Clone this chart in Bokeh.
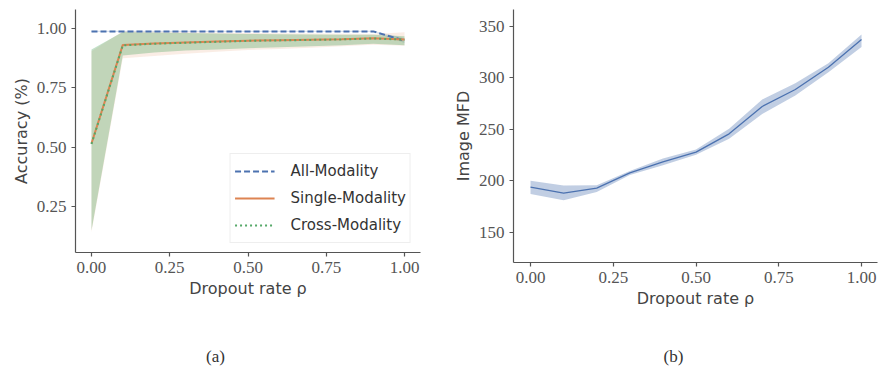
from bokeh.plotting import figure
from bokeh.layouts import row, column
from bokeh.models import FixedTicker, Legend, LegendItem, Range1d
from bokeh.core.properties import value
from bokeh.embed import file_html
from bokeh.resources import INLINE

# ---------------- data ----------------
rates = [0.0, 0.1, 0.2, 0.3, 0.4, 0.5, 0.6, 0.7, 0.8, 0.9, 1.0]

all_mean = [0.989, 0.989, 0.989, 0.989, 0.989, 0.989, 0.989, 0.989, 0.989, 0.989, 0.950]
all_low = [0.986, 0.986, 0.986, 0.986, 0.986, 0.986, 0.986, 0.986, 0.986, 0.986, 0.940]
all_high = [0.992, 0.992, 0.992, 0.992, 0.992, 0.992, 0.992, 0.992, 0.992, 0.992, 0.960]

single_mean = [0.515, 0.932, 0.938, 0.942, 0.946, 0.950, 0.952, 0.954, 0.956, 0.960, 0.955]
single_low = [0.140, 0.876, 0.885, 0.895, 0.903, 0.910, 0.915, 0.920, 0.926, 0.933, 0.928]
single_high = [0.905, 0.990, 0.988, 0.986, 0.984, 0.982, 0.981, 0.980, 0.979, 0.978, 0.985]

cross_mean = [0.513, 0.930, 0.937, 0.941, 0.945, 0.949, 0.951, 0.953, 0.955, 0.959, 0.954]
cross_low = [0.147, 0.887, 0.900, 0.908, 0.913, 0.918, 0.922, 0.926, 0.930, 0.937, 0.930]
cross_high = [0.912, 0.986, 0.984, 0.982, 0.980, 0.978, 0.977, 0.976, 0.975, 0.975, 0.968]

mfd_mean = [193.7, 187.9, 192.8, 207.7, 218.4, 227.8, 245.6, 272.2, 288.7, 310.4, 337.4]
mfd_low = [187.0, 181.0, 189.0, 205.5, 215.0, 225.2, 240.8, 265.0, 282.8, 305.5, 330.0]
mfd_high = [200.0, 195.3, 195.6, 209.5, 221.6, 230.4, 250.5, 279.0, 294.8, 314.3, 342.3]

x_ticks = [0.0, 0.25, 0.5, 0.75, 1.0]
x_tick_labels = ["0.00", "0.25", "0.50", "0.75", "1.00"]
acc_ticks = [0.25, 0.5, 0.75, 1.0]
acc_tick_labels = ["0.25", "0.50", "0.75", "1.00"]
mfd_ticks = [150, 200, 250, 300, 350]
mfd_tick_labels = ["150", "200", "250", "300", "350"]

captions = ["(a)", "(b)"]

BLUE = "#4c72b0"
ORANGE = "#dd8452"
GREEN = "#55a868"

SANS = "DejaVu Sans"
SERIF = "Liberation Serif"


def style(p, xt, xl, yt, yl):
    p.outline_line_color = None
    p.xgrid.visible = False
    p.ygrid.visible = False
    p.background_fill_color = "white"
    for ax in (p.xaxis[0], p.yaxis[0]):
        ax.axis_line_color = "#555555"
        ax.axis_line_width = 1.2
        ax.major_tick_line_color = "#555555"
        ax.major_tick_line_width = 1.2
        ax.major_tick_out = 4
        ax.major_tick_in = 0
        ax.minor_tick_line_color = None
        ax.major_label_text_font = SERIF
        ax.major_label_text_font_size = "17px"
        ax.major_label_text_color = "#555555"
        ax.axis_label_text_font = SANS
        ax.axis_label_text_font_size = "16px"
        ax.axis_label_text_font_style = "normal"
        ax.axis_label_text_color = "#444444"
        ax.axis_label_standoff = 3
        ax.major_label_standoff = 5
    p.xaxis[0].ticker = FixedTicker(ticks=xt)
    p.xaxis[0].major_label_overrides = {t: l for t, l in zip(xt, xl)}
    p.yaxis[0].ticker = FixedTicker(ticks=yt)
    p.yaxis[0].major_label_overrides = {t: l for t, l in zip(yt, yl)}


# ---------------- panel (a) ----------------
pa = figure(width=444, height=330, output_backend="svg", toolbar_location=None,
            x_range=Range1d(-0.0511, 1.0511), y_range=Range1d(0.0542, 1.0816),
            min_border_left=75, min_border_right=24, min_border_top=9, min_border_bottom=78,
            x_axis_label="Dropout rate ρ", y_axis_label="Accuracy (%)")
style(pa, x_ticks, x_tick_labels, acc_ticks, acc_tick_labels)

# bands below, lines above (matplotlib z-order)
pa.varea(x=rates, y1=all_low, y2=all_high, fill_color=BLUE, fill_alpha=0.2)
pa.varea(x=rates, y1=single_low, y2=single_high, fill_color=ORANGE, fill_alpha=0.15)
pa.varea(x=rates, y1=cross_low, y2=cross_high, fill_color=GREEN, fill_alpha=0.35)
r_all = pa.line(rates, all_mean, line_color=BLUE, line_width=2, line_dash="6 3")
r_single = pa.line(rates, single_mean, line_color=ORANGE, line_width=2)
r_cross = pa.line(rates, cross_mean, line_color=GREEN, line_width=2, line_dash="2 3")

legend = Legend(items=[LegendItem(label="All-Modality", renderers=[r_all]),
                       LegendItem(label="Single-Modality", renderers=[r_single]),
                       LegendItem(label="Cross-Modality", renderers=[r_cross])],
                location="bottom_right")
legend.border_line_color = "#dddddd"
legend.border_line_width = 1
legend.background_fill_alpha = 0.85
legend.label_text_font = SANS
legend.label_text_font_size = "15px"
legend.label_text_color = "#333333"
legend.glyph_width = 40
legend.glyph_height = 26
legend.label_height = 26
legend.label_standoff = 16
legend.padding = 4
legend.spacing = 1
legend.margin = 9
pa.add_layout(legend)

# ---------------- panel (b) ----------------
pb = figure(width=434, height=340, output_backend="svg", toolbar_location=None,
            x_range=Range1d(-0.0514, 1.0483), y_range=Range1d(120.5, 366.5),
            min_border_left=69, min_border_right=1, min_border_top=9, min_border_bottom=78,
            x_axis_label="Dropout rate ρ", y_axis_label="Image MFD")
style(pb, x_ticks, x_tick_labels, mfd_ticks, mfd_tick_labels)

pb.varea(x=rates, y1=mfd_low, y2=mfd_high, fill_color=BLUE, fill_alpha=0.35)
pb.line(rates, mfd_mean, line_color=BLUE, line_width=1.3)

# ---------------- captions strip ----------------
pc = figure(width=878, height=34, output_backend="svg", toolbar_location=None,
            x_range=Range1d(0, 878), y_range=Range1d(0, 34),
            x_axis_type=None, y_axis_type=None,
            min_border_left=0, min_border_right=0, min_border_top=0, min_border_bottom=0)
pc.outline_line_color = None
pc.xgrid.visible = False
pc.ygrid.visible = False
pc.text(x=[215, 673], y=[18, 18], text=captions,
        text_font=value(SERIF), text_font_size="17px", text_color="#333333",
        text_align="center", text_baseline="middle")

layout = column(row(pa, pb), pc)
open("out.html", "w").write(file_html(layout, INLINE))
